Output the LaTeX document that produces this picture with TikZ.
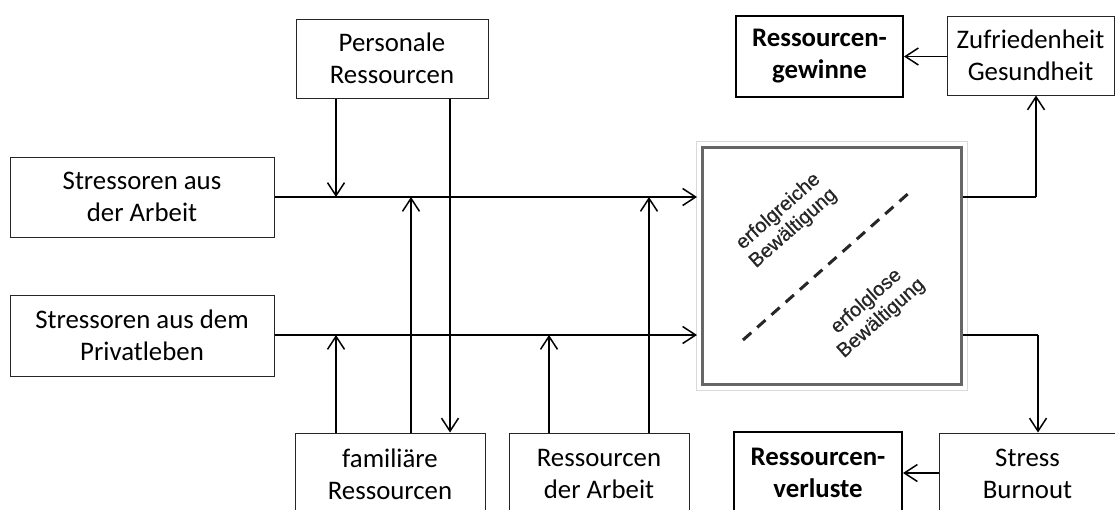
\documentclass[tikz,border=0pt]{standalone}
\usepackage{fontspec}
\setmainfont{Carlito}
\newfontfamily\arialfont[FakeBold=0.5]{Liberation Sans}
\usetikzlibrary{arrows.meta}
\begin{document}
\begin{tikzpicture}[x=1pt,y=-1pt,
  box/.style={draw=black!85, line width=1pt, fill=white, align=center,
    inner sep=0pt, font=\fontsize{26.8}{32}\selectfont},
  boldbox/.style={box, line width=2pt, draw=black, font=\fontsize{26.8}{32}\selectfont\bfseries},
  conn/.style={line width=1.6pt, black},
  arr/.style={conn, -{Straight Barb[length=13pt,width=17pt,line width=1.5pt]}},
  rottext/.style={align=center, inner sep=0pt, text=black!85, rotate=41.5,
    font=\arialfont\fontsize{20}{22.5}\selectfont}]
\clip (0,0) rectangle (1115,509);
\fill[white] (0,0) rectangle (1115,509);

% boxes
\node[box, minimum width=264, minimum height=80] (sa) at (142,197) {Stressoren aus\\der Arbeit};
\node[box, minimum width=264, minimum height=81] (sp) at (142,335.5) {Stressoren aus dem\\Privatleben};
\node[box, minimum width=192, minimum height=79] (pr) at (392,58.5) {Personale\\Ressourcen};
\node[box, minimum width=190, minimum height=82] (fr) at (390,474) {familiäre\\Ressourcen};
\node[box, minimum width=180, minimum height=82] (ra) at (599,474) {Ressourcen\\der Arbeit};
\node[box, minimum width=167, minimum height=79] (zg) at (1030.5,55.5) {Zufriedenheit\\Gesundheit};
\node[boldbox, minimum width=167, minimum height=81] (rg) at (819.5,56.5) {Ressourcen-\\gewinne};
\node[box, minimum width=177, minimum height=82] (sb) at (1027.5,474) {Stress\\Burnout};
\node[boldbox, minimum width=168, minimum height=82] (rv) at (818,473) {Ressourcen-\\verluste};

% coping box with its light outer frame
\node[draw=black!60, line width=3pt, fill=white, minimum width=259, minimum height=237, inner sep=0pt] (cb) at (831.5,265.5) {};
\draw[black!15, line width=1pt] ([shift={(-4.5,-4.5)}]cb.north west) rectangle ([shift={(4.5,4.5)}]cb.south east);
\draw[black!85, line width=3pt, dash pattern=on 11pt off 8pt] (743,340) -- (910,192);
\node[rottext] (eg) at (786,220) {erfolgreiche\\Bewältigung};
\node[rottext] (el) at (874,310) {erfolglose\\Bewältigung};

% junction points on the two stressor lines
\coordinate (a1) at (336,197);
\coordinate (a2) at (411,197);
\coordinate (a3) at (649,197);
\coordinate (ain) at (697,197);
\coordinate (p1) at (336,335);
\coordinate (p2) at (549,335);
\coordinate (pin) at (697,335);
\coordinate (x450) at (450,335);
\coordinate (oa) at (1036,197);
\coordinate (op) at (1038,335);

% stressor lines into the coping box
\draw[arr] (sa.east |- ain) -- (ain);
\draw[arr] (sp.east |- pin) -- (pin);

% resources acting on the stressor lines
\draw[arr] (pr.south -| a1) -- (a1);
\draw[arr] (pr.south -| x450) -- (fr.north -| x450);
\draw[arr] (fr.north -| p1) -- (p1);
\draw[arr] (fr.north -| a2) -- (a2);
\draw[arr] (ra.north -| p2) -- (p2);
\draw[arr] (ra.north -| a3) -- (a3);

% outcomes
\draw[conn] (cb.east |- oa) -- (oa);
\draw[arr] (oa) -- (zg.south -| oa);
\draw[arr] (zg.west |- rg.east) -- (rg.east);
\draw[conn] (cb.east |- op) -- (op);
\draw[arr] (op) -- (sb.north -| op);
\draw[arr] (sb.west |- rv.east) -- (rv.east);
\end{tikzpicture}
\end{document}
